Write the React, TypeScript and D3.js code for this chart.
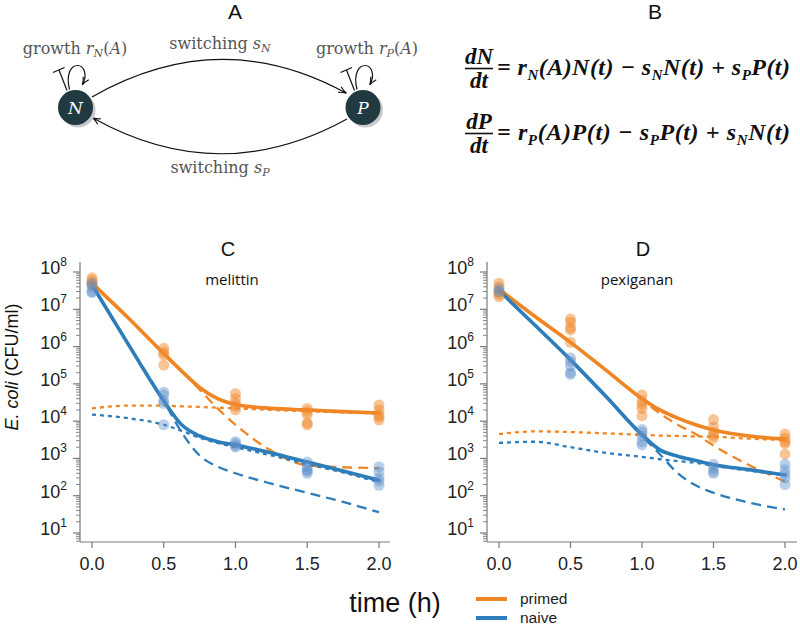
import React from "react";
import * as d3 from "d3";

// ---------------- data ----------------
const xTickValues = [0, 0.5, 1, 1.5, 2];
const xTickLabels = ["0.0", "0.5", "1.0", "1.5", "2.0"];
const yTickExponents = [1, 2, 3, 4, 5, 6, 7, 8];
const legendLabels = ["primed", "naive"];

// melittin (panel C) model curves
const melittinTimes = [0, 0.25, 0.5, 0.625, 0.75, 0.875, 1.0, 1.25, 1.5, 1.75, 2.0];
const melittinPrimedTotal = [5e7, 6e6, 6.5e5, 2.2e5, 8e4, 4e4, 2.8e4, 2.2e4, 2e4, 1.8e4, 1.65e4];
const melittinPrimedN = [5e7, 6e6, 6.5e5, 2.2e5, 7e4, 2.2e4, 8e3, 1.6e3, 6.5e2, 5.8e2, 5.5e2];
const melittinPrimedP = [2.2e4, 2.6e4, 2.6e4, 2.5e4, 2.4e4, 2.3e4, 2.2e4, 2e4, 1.85e4, 1.72e4, 1.6e4];
const melittinNaiveTotal = [4.5e7, 1.2e6, 3.5e4, 8e3, 4e3, 2.8e3, 2.3e3, 1.4e3, 8e2, 4.6e2, 2.6e2];
const melittinNaiveN = [4.5e7, 1.2e6, 3.5e4, 5e3, 1.2e3, 6e2, 4e2, 2.1e2, 1.2e2, 6.8e1, 3.6e1];
const melittinNaiveP = [1.5e4, 1.2e4, 8e3, 5.5e3, 3.6e3, 2.6e3, 2e3, 1.2e3, 7e2, 4.2e2, 2.3e2];

// melittin observations
const melittinPrimedObsT = [0, 0, 0, 0, 0.5, 0.5, 0.5, 0.5, 1, 1, 1, 1, 1, 1.5, 1.5, 1.5, 1.5, 1.5, 2, 2, 2, 2, 2];
const melittinPrimedObs = [7e7, 6e7, 5e7, 4.5e7, 9e5, 7e5, 6e5, 3.2e5, 5.5e4, 4e4, 3e4, 2.5e4, 2e4, 2.2e4, 1.8e4, 1.5e4, 9e3, 8e3, 2.7e4, 2e4, 1.5e4, 1.3e4, 1.07e4];
const melittinNaiveObsT = [0, 0, 0, 0, 0.5, 0.5, 0.5, 0.5, 0.5, 1, 1, 1, 1, 1.5, 1.5, 1.5, 1.5, 1.5, 2, 2, 2, 2, 2];
const melittinNaiveObs = [5e7, 4e7, 3e7, 2.8e7, 6e4, 5e4, 3.5e4, 3e4, 8e3, 2.8e3, 2.5e3, 2.2e3, 2e3, 8e2, 6e2, 5e2, 4.5e2, 4e2, 6e2, 4.4e2, 3e2, 2.5e2, 1.9e2];

// pexiganan (panel D) model curves
const pexTimes = [0, 0.25, 0.5, 0.75, 1.0, 1.125, 1.25, 1.375, 1.5, 1.75, 2.0];
const pexPrimedTotal = [3.5e7, 6.5e6, 1.3e6, 2.3e5, 4e4, 2e4, 1.2e4, 8e3, 5.8e3, 4e3, 3.3e3];
const pexPrimedN = [3.5e7, 6.5e6, 1.3e6, 2.3e5, 3.8e4, 1.6e4, 8e3, 4.5e3, 2.2e3, 6.6e2, 2.4e2];
const pexPrimedP = [4.5e3, 5.3e3, 5.1e3, 4.7e3, 4.3e3, 4.1e3, 4e3, 3.9e3, 3.8e3, 3.4e3, 3.1e3];
const pexNaiveTotal = [3.2e7, 3.8e6, 4.4e5, 4.5e4, 4.3e3, 1.7e3, 1.15e3, 8.8e2, 6.8e2, 5e2, 3.6e2];
const pexNaiveN = [3.2e7, 3.8e6, 4.4e5, 4.5e4, 4e3, 1.3e3, 4e2, 1.9e2, 1.2e2, 6.5e1, 4.3e1];
const pexNaiveP = [2.6e3, 2.8e3, 2e3, 1.4e3, 1.1e3, 9.5e2, 8.5e2, 7.6e2, 6.4e2, 4.7e2, 3.5e2];

// pexiganan observations
const pexPrimedObsT = [0, 0, 0, 0, 0, 0.5, 0.5, 0.5, 0.5, 0.5, 1, 1, 1, 1, 1, 1.5, 1.5, 1.5, 1.5, 1.5, 2, 2, 2, 2, 2];
const pexPrimedObs = [5e7, 4e7, 3e7, 2.5e7, 2.2e7, 5.5e6, 4.5e6, 3.2e6, 2.8e6, 1.3e6, 5e4, 3.5e4, 2.8e4, 2.2e4, 1.4e4, 1.1e4, 7e3, 5e3, 4.2e3, 3.5e3, 4.5e3, 3.5e3, 2.8e3, 2.5e3, 1.3e3];
const pexNaiveObsT = [0, 0, 0.5, 0.5, 0.5, 0.5, 0.5, 1, 1, 1, 1, 1, 1.5, 1.5, 1.5, 1.5, 2, 2, 2, 2, 2];
const pexNaiveObs = [3.5e7, 3e7, 5e5, 4e5, 3e5, 2e5, 1.8e5, 6e3, 5e3, 4e3, 2.8e3, 2.3e3, 7e2, 5.5e2, 4.5e2, 4e2, 7e2, 5e2, 3.8e2, 3e2, 2e2];

// ---------------- styles ----------------
const ORANGE = "#EF8523";
const BLUE = "#2E7DBB";
const ORANGE_PT = "#F08A2E";
const BLUE_PT = "#5A8CC8";
const AXIS = "#7a7a7a";
const SANS = "'Liberation Sans', Arial, Helvetica, sans-serif";

type Group = {
  times: number[];
  total: number[];
  nPop: number[];
  pPop: number[];
  obsT: number[];
  obs: number[];
  color: string;
  ptColor: string;
  ptOpacity: number;
};

type PanelProps = {
  axisX: number;
  axisRight: number;
  x0: number;
  x1: number;
  title: string;
  titleX: number;
  sub: string;
  subX: number;
  groups: Group[];
};

const yScale = d3.scaleLog().domain([10, 1e8]).range([533, 272]);
const AXIS_TOP = 262;
const AXIS_BOTTOM = 542;

function Panel(p: PanelProps) {
  const xs = d3.scaleLinear().domain([0, 2]).range([p.x0, p.x1]);
  const minor: number[] = [];
  for (let e = 0; e <= 8; e++) {
    for (let m = 2; m <= 9; m++) {
      const v = m * Math.pow(10, e);
      const yy = yScale(v);
      if (yy >= AXIS_TOP && yy <= AXIS_BOTTOM) minor.push(v);
    }
  }
  const mkLine = (times: number[]) =>
    d3
      .line<number>()
      .x((_, i) => xs(times[i]))
      .y((d) => yScale(d))
      .curve(d3.curveMonotoneX);

  return (
    <g>
      <line x1={p.axisX} x2={p.axisX} y1={AXIS_TOP} y2={AXIS_BOTTOM} stroke={AXIS} strokeWidth={1.2} />
      <line x1={p.axisX} x2={p.axisRight} y1={AXIS_BOTTOM} y2={AXIS_BOTTOM} stroke={AXIS} strokeWidth={1.2} />
      {minor.map((v, i) => (
        <line key={"mn" + i} x1={p.axisX - 4} x2={p.axisX} y1={yScale(v)} y2={yScale(v)} stroke={AXIS} strokeWidth={0.9} />
      ))}
      {yTickExponents.map((e) => (
        <g key={"yt" + e}>
          <line x1={p.axisX - 7} x2={p.axisX} y1={yScale(Math.pow(10, e))} y2={yScale(Math.pow(10, e))} stroke={AXIS} strokeWidth={1.2} />
          <text x={p.axisX - 13} y={yScale(Math.pow(10, e)) + 2} textAnchor="end" fontFamily={SANS} fontSize={18} fill="#222">
            10
            <tspan fontSize={12} dy={-8}>
              {e}
            </tspan>
          </text>
        </g>
      ))}
      {xTickValues.map((t, i) => (
        <g key={"xt" + i}>
          <line x1={xs(t)} x2={xs(t)} y1={AXIS_BOTTOM} y2={AXIS_BOTTOM + 6} stroke={AXIS} strokeWidth={1.2} />
          <text x={xs(t)} y={570} textAnchor="middle" fontFamily={SANS} fontSize={18} fill="#222">
            {xTickLabels[i]}
          </text>
        </g>
      ))}
      <text x={p.titleX} y={256} textAnchor="middle" fontFamily={SANS} fontSize={20} fill="#111">
        {p.title}
      </text>
      <text x={p.subX} y={285} textAnchor="middle" fontFamily="'Open Sans', sans-serif" fontSize={15} fill="#111">
        {p.sub}
      </text>
      {p.groups.map((g, gi) => {
        const l = mkLine(g.times);
        return (
          <g key={"g" + gi} fill="none" strokeLinecap="butt">
            <path d={l(g.pPop) || ""} stroke={g.color} strokeWidth={2.3} strokeDasharray="4 4" />
            <path d={l(g.nPop) || ""} stroke={g.color} strokeWidth={2.3} strokeDasharray="10 6" />
            <path d={l(g.total) || ""} stroke={g.color} strokeWidth={3.6} strokeLinecap="round" />
          </g>
        );
      })}
      {p.groups.map((g, gi) => (
        <g key={"o" + gi}>
          {g.obs.map((v, i) => (
            <circle key={i} cx={xs(g.obsT[i])} cy={yScale(v)} r={5.5} fill={g.ptColor} fillOpacity={g.ptOpacity} />
          ))}
        </g>
      ))}
    </g>
  );
}

function Diagram() {
  const nx = 75.5, ny = 107.5, px = 363, py = 107.5, r = 17.5;
  const loop = (cx: number, cy: number, k: string) => (
    <g key={k} fill="none" stroke="#111" strokeWidth={1.2}>
      <line x1={cx - 8.5} x2={cx - 16.5} y1={cy - 17} y2={cy - 37.5} />
      <line x1={cx - 22.5} x2={cx - 11} y1={cy - 35} y2={cy - 40} />
      <path d={`M${cx - 6},${cy - 18} C${cx - 10},${cy - 34} ${cx - 4},${cy - 42} ${cx + 2},${cy - 42} C${cx + 9},${cy - 42} ${cx + 12},${cy - 32} ${cx + 7},${cy - 23}`} markerEnd="url(#arrowhead)" />
    </g>
  );
  const labelStyle = { fontFamily: "'DejaVu Serif', serif", fontSize: 16, fill: "#555" } as const;
  return (
    <g>
      <defs>
        <marker id="arrowhead" viewBox="0 0 10 10" refX={9} refY={5} markerWidth={9} markerHeight={9} markerUnits="userSpaceOnUse" orient="auto">
          <path d="M1,1.5 Q5,4 9.5,5 Q5,6 1,8.5" fill="none" stroke="#111" strokeWidth={1.3} />
        </marker>
      </defs>
      <text x={235} y={19} textAnchor="middle" fontFamily={SANS} fontSize={21} fill="#111">A</text>
      <path d={`M92,97 Q220,24 346,93`} fill="none" stroke="#111" strokeWidth={1.2} markerEnd="url(#arrowhead)" />
      <path d={`M347,119 Q220,189 93,118`} fill="none" stroke="#111" strokeWidth={1.2} markerEnd="url(#arrowhead)" />
      {loop(nx, ny, "ln")}
      {loop(px, py, "lp")}
      <circle cx={nx + 2.5} cy={ny + 2.5} r={r} fill="#c9c9c9" />
      <circle cx={px + 2.5} cy={py + 2.5} r={r} fill="#c9c9c9" />
      <circle cx={nx} cy={ny} r={r} fill="#1f3a40" />
      <circle cx={px} cy={py} r={r} fill="#1f3a40" />
      <text x={nx} y={ny + 6} textAnchor="middle" fontFamily="'DejaVu Serif', serif" fontStyle="italic" fontSize={17} fill="#fff">N</text>
      <text x={px} y={py + 6} textAnchor="middle" fontFamily="'DejaVu Serif', serif" fontStyle="italic" fontSize={17} fill="#fff">P</text>
      <text x={75} y={54} textAnchor="middle" {...labelStyle}>
        growth <tspan fontStyle="italic">r</tspan>
        <tspan fontStyle="italic" fontSize={11} dy={3}>N</tspan>
        <tspan dy={-3}>(</tspan>
        <tspan fontStyle="italic">A</tspan>)
      </text>
      <text x={367} y={54} textAnchor="middle" {...labelStyle}>
        growth <tspan fontStyle="italic">r</tspan>
        <tspan fontStyle="italic" fontSize={11} dy={3}>P</tspan>
        <tspan dy={-3}>(</tspan>
        <tspan fontStyle="italic">A</tspan>)
      </text>
      <text x={220} y={49} textAnchor="middle" {...labelStyle}>
        switching <tspan fontStyle="italic">s</tspan>
        <tspan fontStyle="italic" fontSize={11} dy={3}>N</tspan>
      </text>
      <text x={220} y={173} textAnchor="middle" {...labelStyle}>
        switching <tspan fontStyle="italic">s</tspan>
        <tspan fontStyle="italic" fontSize={11} dy={3}>P</tspan>
      </text>
    </g>
  );
}

function Equations() {
  const f = { fontFamily: "'Liberation Serif', 'Times New Roman', serif", fontWeight: "bold", fontStyle: "italic", fill: "#111" } as const;
  const eq = (y: number, num: string, a: string, b: string, c: string, k: string) => (
    <g key={k}>
      <text x={479} y={y - 11} textAnchor="middle" fontSize={23} {...f}>d{num}</text>
      <line x1={465} x2={493} y1={y - 6.5} y2={y - 6.5} stroke="#111" strokeWidth={1.6} />
      <text x={479} y={y + 13} textAnchor="middle" fontSize={23} {...f}>dt</text>
      <text x={497} y={y} fontSize={24} {...f} textLength={293} lengthAdjust="spacing">
        {"= r"}
        <tspan fontSize={15} dy={5}>{a}</tspan>
        <tspan dy={-5}>{"(A)" + a + "(t) − s"}</tspan>
        <tspan fontSize={15} dy={5}>{b}</tspan>
        <tspan dy={-5}>{a + "(t) + s"}</tspan>
        <tspan fontSize={15} dy={5}>{c}</tspan>
        <tspan dy={-5}>{c + "(t)"}</tspan>
      </text>
    </g>
  );
  return (
    <g>
      <text x={655} y={19} textAnchor="middle" fontFamily={SANS} fontSize={21} fill="#111">B</text>
      {eq(75, "N", "N", "N", "P", "e1")}
      {eq(140, "P", "P", "P", "N", "e2")}
    </g>
  );
}

export default function App() {
  const cGroups: Group[] = [
    { times: melittinTimes, total: melittinPrimedTotal, nPop: melittinPrimedN, pPop: melittinPrimedP, obsT: melittinPrimedObsT, obs: melittinPrimedObs, color: ORANGE, ptColor: ORANGE_PT, ptOpacity: 0.5 },
    { times: melittinTimes, total: melittinNaiveTotal, nPop: melittinNaiveN, pPop: melittinNaiveP, obsT: melittinNaiveObsT, obs: melittinNaiveObs, color: BLUE, ptColor: BLUE_PT, ptOpacity: 0.42 },
  ];
  const dGroups: Group[] = [
    { times: pexTimes, total: pexPrimedTotal, nPop: pexPrimedN, pPop: pexPrimedP, obsT: pexPrimedObsT, obs: pexPrimedObs, color: ORANGE, ptColor: ORANGE_PT, ptOpacity: 0.5 },
    { times: pexTimes, total: pexNaiveTotal, nPop: pexNaiveN, pPop: pexNaiveP, obsT: pexNaiveObsT, obs: pexNaiveObs, color: BLUE, ptColor: BLUE_PT, ptOpacity: 0.42 },
  ];
  return (
    <svg width={800} height={626} style={{ position: "absolute", left: 0, top: 0, background: "#fff" }}>
      <rect width={800} height={626} fill="#fff" />
      <Diagram />
      <Equations />
      <Panel axisX={80} axisRight={390} x0={92} x1={379} title="C" titleX={228} sub="melittin" subX={232} groups={cGroups} />
      <Panel axisX={487} axisRight={797} x0={499} x1={785} title="D" titleX={643} sub="pexiganan" subX={637} groups={dGroups} />
      <text transform="translate(18,367) rotate(-90)" textAnchor="middle" fontFamily={SANS} fontSize={18} fill="#111">
        <tspan fontStyle="italic">E. coli</tspan> (CFU/ml)
      </text>
      <text x={395} y={612} textAnchor="middle" fontFamily={SANS} fontSize={27} fill="#111">time (h)</text>
      {legendLabels.map((lab, i) => (
        <g key={lab}>
          <line x1={476} x2={507} y1={599 + i * 19} y2={599 + i * 19} stroke={i === 0 ? ORANGE : BLUE} strokeWidth={4} />
          <text x={520} y={604 + i * 19} fontFamily={SANS} fontSize={15.5} fill="#222">{lab}</text>
        </g>
      ))}
    </svg>
  );
}
